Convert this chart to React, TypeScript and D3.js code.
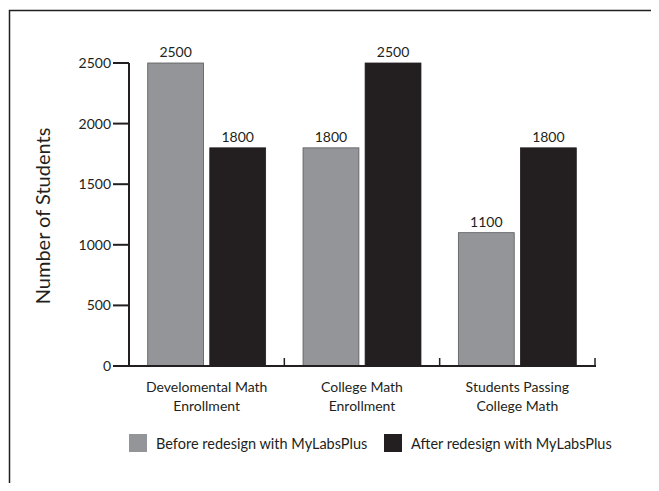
import { useEffect, useRef } from "react";
import * as d3 from "d3";

const categories = [
  ["Develomental Math", "Enrollment"],
  ["College Math", "Enrollment"],
  ["Students Passing", "College Math"],
];
const beforeValues = [2500, 1800, 1100];
const afterValues = [1800, 2500, 1800];
const yTicks = [0, 500, 1000, 1500, 2000, 2500];
const seriesNames = [
  "Before redesign with MyLabsPlus",
  "After redesign with MyLabsPlus",
];

const GRAY = "#939598";
const BLACK = "#231f20";
const FONT = "Lato, 'Open Sans', sans-serif";

export default function App() {
  const svgRef = useRef<SVGSVGElement>(null);

  useEffect(() => {
    if (!svgRef.current) return;
    const width = 659;
    const height = 491;
    const left = 129;
    const right = 595;
    const top = 63;
    const bottom = 366;

    d3.select(svgRef.current).selectAll("*").remove();
    const svg = d3
      .select(svgRef.current)
      .attr("width", width)
      .attr("height", height)
      .attr("viewBox", `0 0 ${width} ${height}`)
      .style("font-family", FONT);

    // frame (cropped at right and bottom)
    svg
      .append("path")
      .attr("d", `M9.5,${height} V10.5 H${width}`)
      .attr("fill", "none")
      .attr("stroke", BLACK)
      .attr("stroke-width", 1.5);

    const x0 = d3
      .scaleBand<number>()
      .domain(d3.range(categories.length))
      .range([left, right])
      .paddingInner(0)
      .paddingOuter(0);

    const inner = d3
      .scaleBand<number>()
      .domain([0, 1])
      .range([18.7, x0.bandwidth() - 18.7])
      .paddingInner(0.1);

    const y = d3.scaleLinear().domain([0, 2500]).range([bottom, top]);

    // bars
    const series = [beforeValues, afterValues];
    const colors = [GRAY, BLACK];
    const strokes = ["#58595b", BLACK];
    series.forEach((vals, si) => {
      const g = svg.append("g");
      g.selectAll("rect")
        .data(vals)
        .enter()
        .append("rect")
        .attr("x", (_, i) => x0(i)! + inner(si)!)
        .attr("y", (d) => y(d))
        .attr("width", inner.bandwidth())
        .attr("height", (d) => bottom - y(d))
        .attr("fill", colors[si])
        .attr("stroke", strokes[si])
        .attr("stroke-width", 0.8);
      g.selectAll("text")
        .data(vals)
        .enter()
        .append("text")
        .attr("x", (_, i) => x0(i)! + inner(si)! + inner.bandwidth() / 2)
        .attr("y", (d) => y(d) - 6)
        .attr("text-anchor", "middle")
        .attr("font-size", 14)
        .attr("fill", BLACK)
        .text((d) => d);
    });

    // y axis
    const yAxis = svg.append("g");
    yAxis
      .append("line")
      .attr("x1", left)
      .attr("x2", left)
      .attr("y1", top)
      .attr("y2", bottom)
      .attr("stroke", BLACK)
      .attr("stroke-width", 2);
    yTicks.forEach((t) => {
      yAxis
        .append("line")
        .attr("x1", left - 16)
        .attr("x2", left)
        .attr("y1", y(t))
        .attr("y2", y(t))
        .attr("stroke", BLACK)
        .attr("stroke-width", 2);
      yAxis
        .append("text")
        .attr("x", left - 18)
        .attr("y", y(t))
        .attr("dy", "0.35em")
        .attr("text-anchor", "end")
        .attr("font-size", 14)
        .attr("fill", BLACK)
        .text(t);
    });

    // x axis
    svg
      .append("line")
      .attr("x1", left)
      .attr("x2", right + 1)
      .attr("y1", bottom)
      .attr("y2", bottom)
      .attr("stroke", BLACK)
      .attr("stroke-width", 2);
    d3.range(1, categories.length + 1).forEach((i) => {
      const xx = left + i * x0.bandwidth();
      svg
        .append("line")
        .attr("x1", xx)
        .attr("x2", xx)
        .attr("y1", bottom)
        .attr("y2", bottom - 8)
        .attr("stroke", BLACK)
        .attr("stroke-width", 1.5);
    });
    categories.forEach((lines, i) => {
      const t = svg
        .append("text")
        .attr("x", x0(i)! + x0.bandwidth() / 2)
        .attr("y", 392)
        .attr("text-anchor", "middle")
        .attr("font-size", 14)
        .attr("fill", BLACK);
      lines.forEach((ln, j) => {
        t.append("tspan")
          .attr("x", x0(i)! + x0.bandwidth() / 2)
          .attr("dy", j === 0 ? 0 : 19)
          .text(ln);
      });
    });

    // y title
    svg
      .append("text")
      .attr("transform", `translate(50,216) rotate(-90)`)
      .attr("text-anchor", "middle")
      .attr("font-size", 20)
      .attr("fill", BLACK)
      .text("Number of Students");

    // legend
    const legendX = [129, 384];
    seriesNames.forEach((name, i) => {
      svg
        .append("rect")
        .attr("x", legendX[i])
        .attr("y", 434)
        .attr("width", 18)
        .attr("height", 18)
        .attr("fill", colors[i]);
      svg
        .append("text")
        .attr("x", legendX[i] + 27)
        .attr("y", 449)
        .attr("font-size", 14.5)
        .attr("fill", BLACK)
        .text(name);
    });
  }, []);

  return (
    <div style={{ margin: -8 }}>
      <svg ref={svgRef} style={{ display: "block" }} />
    </div>
  );
}
